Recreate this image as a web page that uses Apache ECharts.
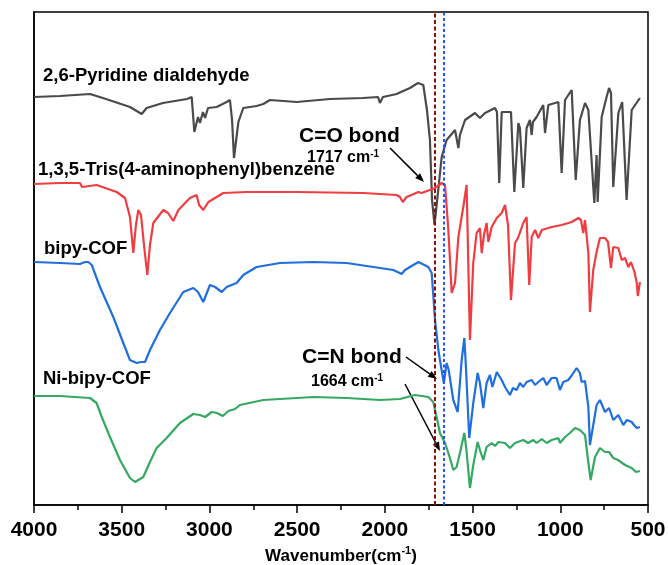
<!DOCTYPE html>
<html>
<head>
<meta charset="utf-8">
<script src="https://cdn.jsdelivr.net/npm/echarts@6/dist/echarts.min.js"></script>
<style>
  html, body { margin: 0; padding: 0; background: #fff; }
  #chart { width: 668px; height: 565px; }
</style>
</head>
<body>
<div id="chart"></div>
<script>
// FTIR spectra, [wavenumber (cm-1), offset transmittance (a.u.)]
const wavenumberTicks = [4000, 3500, 3000, 2500, 2000, 1500, 1000, 500];

const pyridineDialdehyde = [
  [4000,408],[3852,409],[3681,411],[3607,407],[3453,398],[3386,391],[3358,397],[3265,402],
  [3128,406],[3101,408],[3086,373],[3065,388],[3054,382],[3037,393],[3025,387],[3008,397],
  [2959,398],[2902,403],[2883,405],[2871,385],[2860,347],[2835,383],[2807,397],[2731,399],
  [2693,401],[2655,405],[2503,403],[2313,406],[2125,407],[2039,408],[2028,402],[2011,408],
  [1933,411],[1857,417],[1811,422],[1800,424],[1781,420],[1760,395],[1743,365],[1731,305],
  [1717,280],[1695,316],[1676,348],[1648,365],[1600,375],[1581,357],[1572,370],[1543,385],
  [1486,392],[1458,387],[1429,392],[1372,397],[1361,393],[1348,322],[1334,393],[1306,393],
  [1281,393],[1262,313],[1239,382],[1230,377],[1211,317],[1192,377],[1173,385],[1163,370],
  [1156,383],[1135,388],[1097,400],[1087,372],[1068,400],[1011,403],[992,332],[973,405],
  [935,415],[912,325],[888,385],[859,402],[840,395],[806,302],[793,350],[787,303],
  [764,388],[736,408],[722,417],[711,412],[698,318],[669,392],[647,403],[622,305],
  [593,395],[546,407]
];

const trisAminophenylBenzene = [
  [4000,321],[3852,322],[3738,322],[3726,318],[3643,320],[3529,313],[3481,307],[3453,288],
  [3434,252],[3419,280],[3405,295],[3390,290],[3373,260],[3354,230],[3339,260],[3320,282],
  [3263,295],[3236,292],[3206,284],[3177,295],[3111,307],[3073,310],[3059,300],[3035,295],
  [3006,303],[2921,312],[2788,313],[2503,313],[2123,312],[1933,310],[1914,308],[1898,303],
  [1876,308],[1809,313],[1790,312],[1714,317],[1676,322],[1657,320],[1638,275],[1619,212],
  [1600,222],[1581,268],[1553,298],[1534,320],[1515,165],[1496,242],[1477,272],[1458,277],
  [1448,252],[1435,270],[1420,282],[1410,263],[1391,278],[1362,287],[1334,292],[1315,300],
  [1298,280],[1281,205],[1258,262],[1241,267],[1211,282],[1192,288],[1177,220],[1163,268],
  [1144,275],[1125,267],[1106,275],[1049,278],[992,280],[935,283],[897,287],[882,285],
  [869,272],[859,285],[840,252],[831,193],[812,235],[793,253],[774,267],[745,267],
  [728,263],[711,237],[698,258],[669,257],[650,245],[631,247],[612,238],[597,243],
  [577,233],[564,222],[558,209],[546,223]
];

const bipyCOF = [
  [4000,243],[3852,242],[3738,241],[3709,243],[3690,243],[3671,240],[3624,218],[3548,188],
  [3491,162],[3453,145],[3415,142],[3390,143],[3367,143],[3339,155],[3282,175],[3225,192],
  [3149,213],[3092,217],[3065,213],[3035,203],[2997,220],[2968,218],[2930,213],[2902,218],
  [2845,222],[2807,230],[2731,238],[2598,242],[2408,243],[2218,242],[2028,237],[1952,235],
  [1904,231],[1885,235],[1857,238],[1809,243],[1752,238],[1733,232],[1714,185],[1695,155],
  [1686,145],[1664,122],[1648,142],[1636,135],[1610,105],[1585,93],[1562,145],[1547,167],
  [1537,135],[1519,67],[1496,102],[1471,132],[1458,122],[1439,97],[1420,122],[1401,130],
  [1387,118],[1362,133],[1334,125],[1315,118],[1287,110],[1270,117],[1249,115],[1230,122],
  [1211,118],[1192,123],[1163,125],[1144,120],[1125,123],[1097,127],[1078,120],[1049,127],
  [1021,127],[1002,115],[983,123],[954,125],[933,130],[907,137],[888,132],[878,123],
  [859,124],[840,98],[831,60],[812,80],[793,100],[774,105],[745,93],[722,97],
  [698,85],[669,90],[641,80],[620,85],[593,83],[580,80],[564,77],[546,78]
];

const niBipyCOF = [
  [4000,109],[3852,109],[3681,107],[3643,102],[3614,88],[3567,68],[3510,45],[3453,27],
  [3424,23],[3377,28],[3339,43],[3301,57],[3244,67],[3168,82],[3092,91],[3054,90],
  [3025,88],[2987,93],[2957,92],[2924,89],[2892,94],[2854,96],[2826,100],[2693,105],
  [2408,108],[2218,107],[2028,105],[1914,106],[1828,110],[1752,108],[1724,103],[1705,88],
  [1686,72],[1657,62],[1629,47],[1610,35],[1591,38],[1572,52],[1547,72],[1535,55],
  [1515,17],[1496,40],[1471,63],[1458,55],[1439,45],[1420,58],[1391,62],[1372,59],
  [1353,63],[1315,62],[1287,57],[1258,62],[1211,65],[1184,62],[1154,65],[1135,62],
  [1106,66],[1078,62],[1049,65],[1011,67],[1002,62],[973,68],[945,72],[916,77],
  [888,75],[859,70],[844,48],[827,25],[802,48],[774,57],[745,53],[722,53],
  [698,47],[671,45],[631,40],[593,37],[569,33],[546,34]
];

const seriesNames = ['2,6-Pyridine dialdehyde', '1,3,5-Tris(4-aminophenyl)benzene', 'bipy-COF', 'Ni-bipy-COF'];
const seriesColors = ['#4a4a4a', '#ef3d42', '#1f6fde', '#35a862'];
const bondPositions = [1717, 1664]; // C=O, C=N

const FONT = '"Liberation Sans", Arial, sans-serif';
const chart = echarts.init(document.getElementById('chart'), null, { renderer: 'canvas' });

function lineSeries(name, data, color, extra) {
  return Object.assign({
    name, type: 'line', data, symbol: 'none', smooth: false,
    lineStyle: { color, width: 2.2 }, itemStyle: { color }, silent: true, animation: false
  }, extra || {});
}

function arrow(x1, y1, x2, y2) {
  const ang = Math.atan2(y2 - y1, x2 - x1);
  const L = 9, W = 3.5;
  const bx = x2 - L * Math.cos(ang), by = y2 - L * Math.sin(ang);
  const px = -Math.sin(ang) * W, py = Math.cos(ang) * W;
  return [
    { type: 'line', shape: { x1, y1, x2: bx, y2: by }, style: { stroke: '#000', lineWidth: 1.5 } },
    { type: 'polygon', shape: { points: [[x2, y2], [bx + px, by + py], [bx - px, by - py]] }, style: { fill: '#000' } }
  ];
}

function label(text, x, y, size) {
  return { type: 'text', x, y, style: { text, font: 'bold ' + size + 'px ' + FONT, fill: '#000', textVerticalAlign: 'middle' } };
}

function wnLabel(value, x, y) {
  return {
    type: 'text', x, y,
    style: {
      text: '{a|' + value + ' cm}{s|-1}',
      textVerticalAlign: 'middle',
      rich: {
        a: { fontFamily: FONT, fontWeight: 'bold', fontSize: 16, color: '#000', lineHeight: 18 },
        s: { fontFamily: FONT, fontWeight: 'bold', fontSize: 10, color: '#000', verticalAlign: 'top', lineHeight: 18, padding: [0, 0, 8, 0] }
      }
    }
  };
}

const option = {
  backgroundColor: '#fff',
  animation: false,
  grid: {
    left: 34, right: 20, top: 12, bottom: 60,
    containLabel: false, outerBoundsMode: 'none',
    show: true, borderColor: '#000', borderWidth: 1.5, backgroundColor: 'transparent'
  },
  xAxis: {
    type: 'value', min: 500, max: 4000, interval: 500, inverse: true,
    axisLine: { show: true, lineStyle: { color: '#000', width: 1.5 } },
    axisTick: { show: true, length: 8, inside: false, lineStyle: { color: '#000', width: 1.5 } },
    minorTick: { show: true, splitNumber: 2, length: 5, lineStyle: { color: '#000', width: 1.5 } },
    splitLine: { show: false },
    axisLabel: { fontFamily: FONT, fontWeight: 'bold', fontSize: 21, color: '#000', margin: 15,
      formatter: v => wavenumberTicks.includes(v) ? String(v) : '' },
    name: '{m|Wavenumber(cm}{s|-1}{m|)}',
    nameLocation: 'middle', nameGap: 40,
    nameTextStyle: {
      rich: {
        m: { fontFamily: FONT, fontWeight: 'bold', fontSize: 17, color: '#000', lineHeight: 20 },
        s: { fontFamily: FONT, fontWeight: 'bold', fontSize: 11, color: '#000', verticalAlign: 'top', lineHeight: 20, padding: [0, 0, 7, 0] }
      }
    }
  },
  yAxis: {
    type: 'value', min: 0, max: 493,
    axisLine: { show: true, lineStyle: { color: '#000', width: 1.5 } },
    axisTick: { show: false }, axisLabel: { show: false }, splitLine: { show: false }
  },
  series: [
    lineSeries(seriesNames[0], pyridineDialdehyde, seriesColors[0]),
    lineSeries(seriesNames[1], trisAminophenylBenzene, seriesColors[1]),
    lineSeries(seriesNames[2], bipyCOF, seriesColors[2]),
    lineSeries(seriesNames[3], niBipyCOF, seriesColors[3], {
      markLine: {
        silent: true, symbol: 'none', label: { show: false }, animation: false,
        data: [
          { xAxis: bondPositions[0], lineStyle: { color: '#8b0d0d', type: [4, 2.5], width: 2 } },
          { xAxis: bondPositions[1], lineStyle: { color: '#2a4dff', type: [3, 2.5], width: 2 } }
        ]
      }
    })
  ],
  graphic: [
    label(seriesNames[0], 43, 76, 18.5),
    label(seriesNames[1], 38, 170, 18.5),
    label(seriesNames[2], 44, 249, 18.5),
    label(seriesNames[3], 43, 379, 18.5),
    label('C=O bond', 299, 136, 21),
    wnLabel(bondPositions[0], 307, 158),
    label('C=N bond', 302, 357, 21),
    wnLabel(bondPositions[1], 311, 382),
    ...arrow(390, 148, 424, 182),
    ...arrow(406, 357, 437, 379),
    ...arrow(405, 384, 440, 451)
  ]
};

chart.setOption(option);
</script>
</body>
</html>
